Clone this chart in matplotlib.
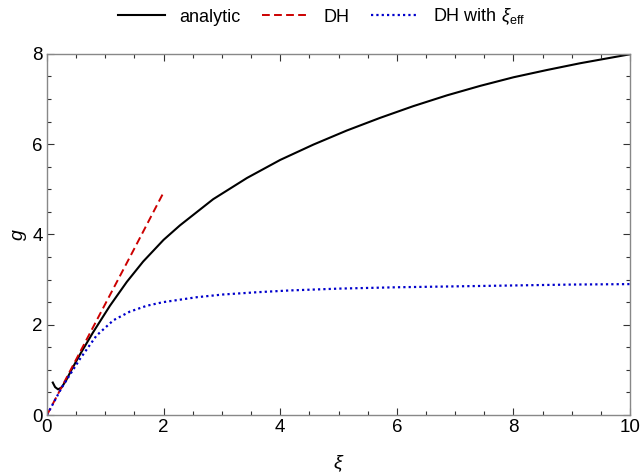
import numpy as np
import matplotlib.pyplot as plt
from matplotlib.ticker import MultipleLocator

plt.rcParams['font.family'] = ['Liberation Sans', 'DejaVu Sans']
plt.rcParams['mathtext.fontset'] = 'custom'
plt.rcParams['mathtext.rm'] = 'Liberation Sans'
plt.rcParams['mathtext.it'] = 'Liberation Sans:italic'

# analytic solution
xi_analytic = [0.10, 0.14, 0.19, 0.25, 0.33, 0.42, 0.57, 0.79, 1.08, 1.37, 1.65,
               2.0, 2.28, 2.85, 3.43, 4.0, 4.57, 5.14, 5.71, 6.28, 6.86, 7.43,
               8.0, 8.57, 9.14, 10.0]
g_analytic = [0.72, 0.62, 0.57, 0.61, 0.77, 1.00, 1.35, 1.83, 2.42, 2.95, 3.40,
              3.88, 4.20, 4.78, 5.25, 5.65, 5.99, 6.30, 6.58, 6.84, 7.08, 7.29,
              7.48, 7.64, 7.79, 7.99]

# Debye-Hueckel
xi_dh = [0.0, 0.5, 1.0, 1.5, 2.0]
g_dh = [0.0, 1.23, 2.46, 3.69, 4.93]

# Debye-Hueckel with effective xi
xi_eff = [0.0, 0.25, 0.57, 0.85, 1.14, 1.42, 1.71, 1.99, 2.57, 3.02, 3.6, 4.17,
          5.0, 6.0, 7.0, 8.0, 9.0, 10.0]
g_eff = [0.0, 0.60, 1.25, 1.76, 2.10, 2.29, 2.42, 2.50, 2.61, 2.67, 2.72, 2.76,
         2.80, 2.83, 2.85, 2.87, 2.89, 2.90]

fig = plt.figure(figsize=(6.43, 4.76), dpi=100)
ax = fig.add_axes([0.073, 0.128, 0.907, 0.759])

ax.plot(xi_analytic, g_analytic, color='black', lw=1.5, label='analytic')
ax.plot(xi_dh, g_dh, color='#cc0000', lw=1.4, ls=(0, (4, 2.2)), label='DH')
ax.plot(xi_eff, g_eff, color='#0000cc', lw=1.6, ls=(0, (1, 1.4)),
        label=r'DH with $\xi_{\mathrm{eff}}$')

ax.set_xlim(0, 10)
ax.set_ylim(0, 8)
ax.xaxis.set_major_locator(MultipleLocator(2))
ax.xaxis.set_minor_locator(MultipleLocator(0.5))
ax.yaxis.set_major_locator(MultipleLocator(2))
ax.yaxis.set_minor_locator(MultipleLocator(0.5))
ax.tick_params(which='both', direction='in', top=True, right=True,
               labelsize=13.5, color='#333333', width=0.8)
ax.tick_params(which='major', length=5, pad=3)
ax.tick_params(which='minor', length=3)
for sp in ax.spines.values():
    sp.set_color('#888888')
    sp.set_linewidth(1.0)

ax.set_xlabel(r'$\xi$', fontsize=14, labelpad=12)
ax.set_ylabel(r'$g$', fontsize=14, labelpad=2)

fig.legend(loc='upper center', bbox_to_anchor=(0.5, 1.02), ncol=3,
           frameon=False, fontsize=13, handlelength=2.6, handletextpad=0.8,
           columnspacing=1.2)

fig.savefig('out.png', dpi=100)
